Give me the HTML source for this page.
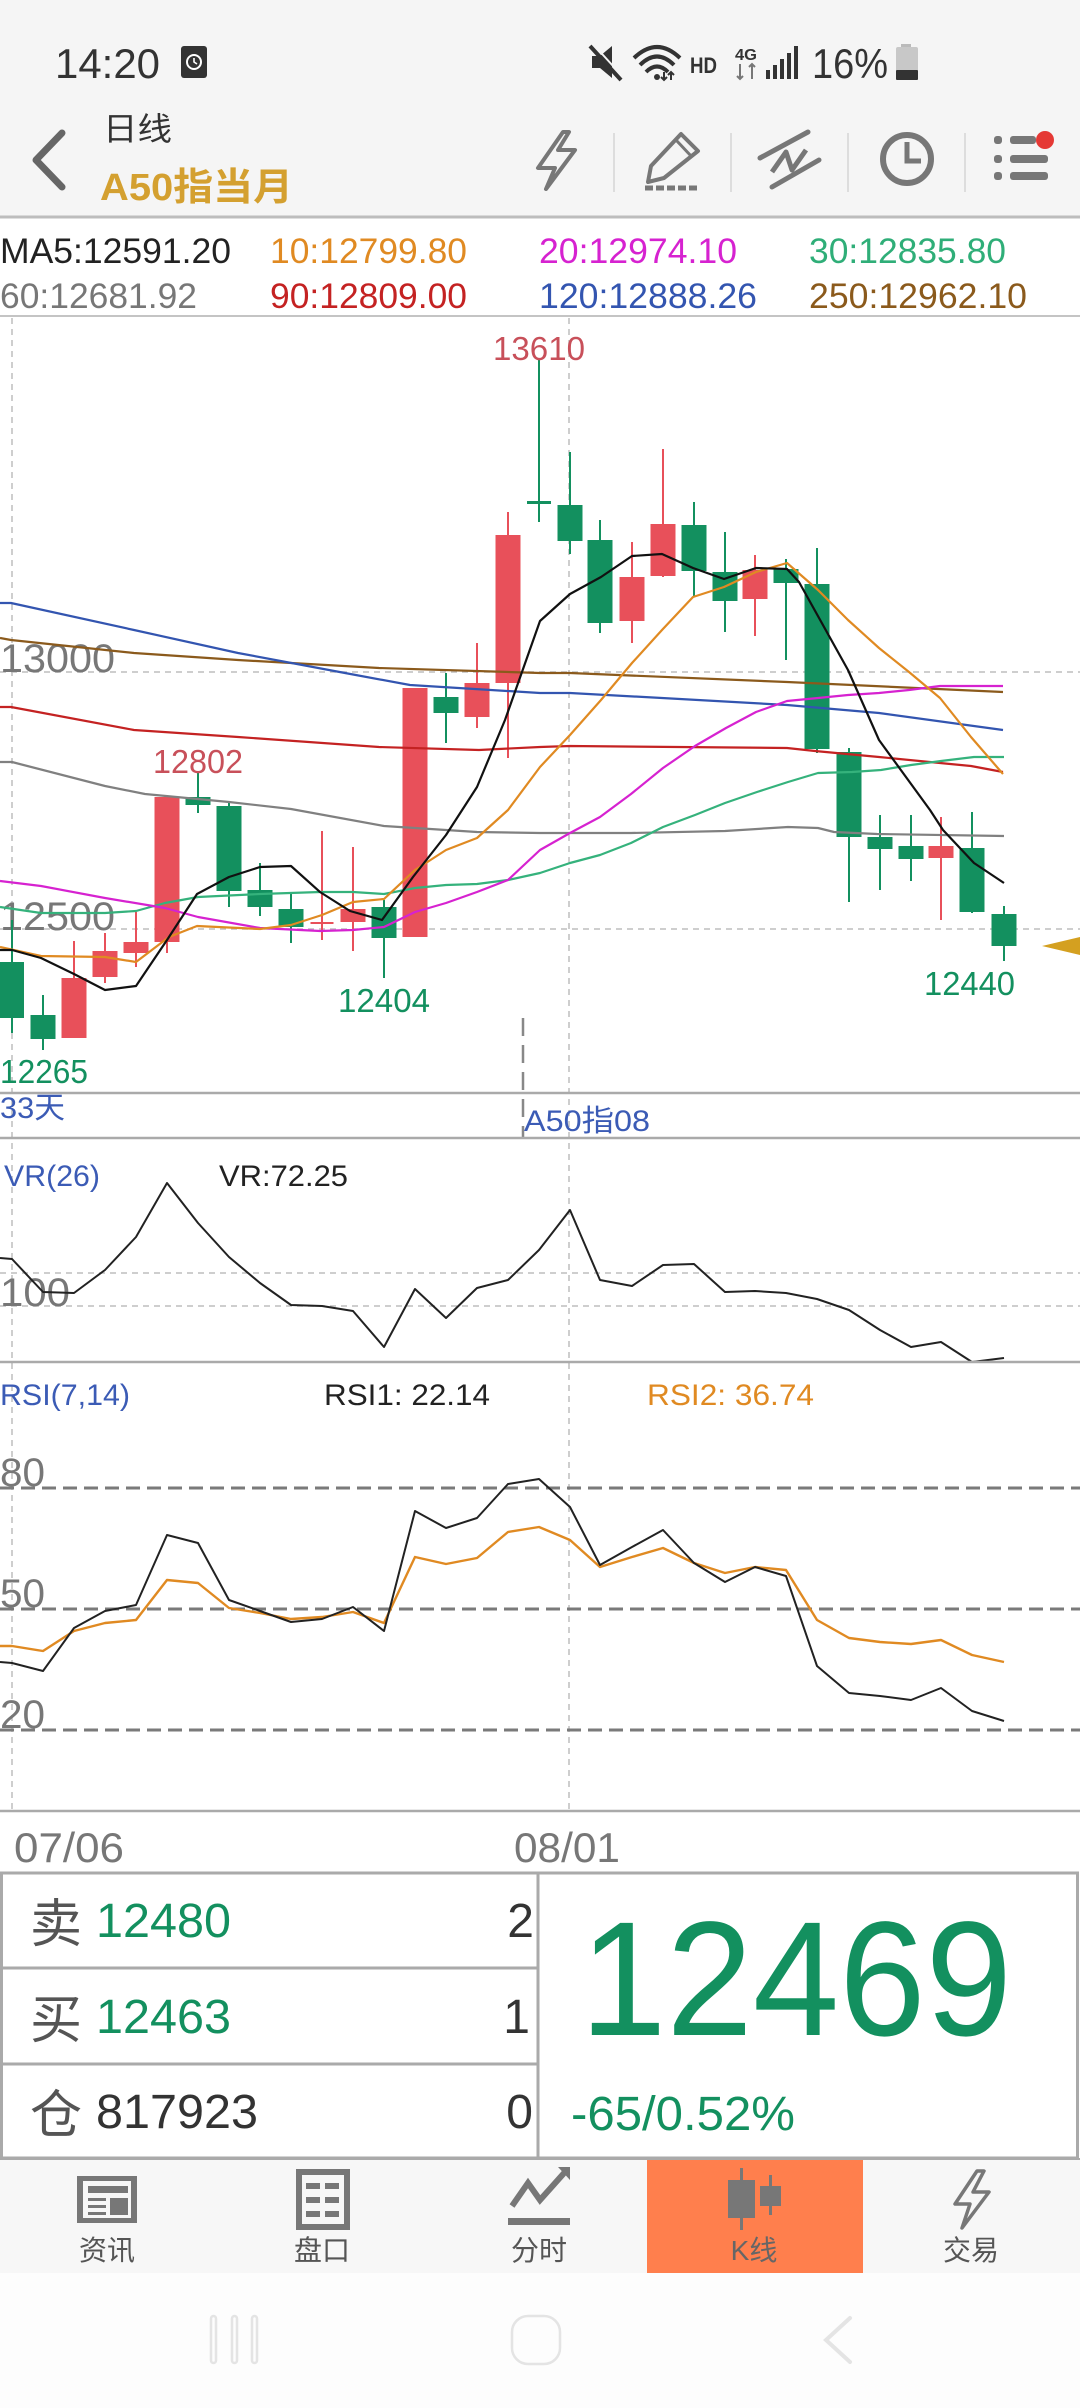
<!DOCTYPE html>
<html><head><meta charset="utf-8"><style>
html,body{margin:0;padding:0;width:1080px;height:2408px;overflow:hidden;background:#fff}
svg{display:block}
text{font-family:"Liberation Sans","Noto Sans CJK SC",sans-serif}
</style></head><body>
<svg width="1080" height="2408" viewBox="0 0 1080 2408" xmlns="http://www.w3.org/2000/svg">
<!-- backgrounds -->
<rect x="0" y="0" width="1080" height="217" fill="#f5f5f5"/>
<rect x="0" y="217" width="1080" height="1943" fill="#ffffff"/>
<rect x="0" y="2160" width="1080" height="113" fill="#f7f7f7"/>
<rect x="0" y="2273" width="1080" height="135" fill="#fdfdfd"/>

<!-- status bar -->
<text x="55" y="78" font-size="42" fill="#333" textLength="105" lengthAdjust="spacingAndGlyphs">14:20</text>
<rect x="181" y="46" width="26" height="32" rx="3" fill="#333"/>
<circle cx="194" cy="62" r="7" fill="none" stroke="#fff" stroke-width="2"/>
<path d="M194 58 L194 62 L197 64" stroke="#fff" stroke-width="1.6" fill="none"/>
<!-- mute -->
<path d="M592 56 L600 56 L612 46 L612 78 L600 68 L592 68 Z" fill="#333"/>
<line x1="590" y1="46" x2="621" y2="80" stroke="#333" stroke-width="4"/>
<line x1="593" y1="44" x2="624" y2="78" stroke="#f5f5f5" stroke-width="2"/>
<!-- wifi -->
<path d="M634 58 Q657 36 680 58" stroke="#333" stroke-width="4" fill="none"/>
<path d="M640 65 Q657 48 674 65" stroke="#333" stroke-width="4" fill="none"/>
<path d="M646 72 Q657 61 668 72" stroke="#333" stroke-width="4" fill="none"/>
<circle cx="657" cy="77" r="3" fill="#333"/>
<path d="M664 72 L664 80 M661 77 L664 80 L667 77 M671 80 L671 72 M668 75 L671 72 L674 75" stroke="#333" stroke-width="2" fill="none"/>
<text x="690" y="73" font-size="22" font-weight="bold" fill="#333" textLength="27" lengthAdjust="spacingAndGlyphs">HD</text>
<text x="735" y="60" font-size="16" font-weight="bold" fill="#333" textLength="22" lengthAdjust="spacingAndGlyphs">4G</text>
<path d="M740 64 L740 79 M737 76 L740 79 L743 76 M752 79 L752 64 M749 67 L752 64 L755 67" stroke="#777" stroke-width="2" fill="none"/>
<rect x="766" y="70" width="4" height="9" fill="#333"/>
<rect x="773" y="65" width="4" height="14" fill="#333"/>
<rect x="780" y="59" width="4" height="20" fill="#333"/>
<rect x="787" y="53" width="4" height="26" fill="#333"/>
<rect x="794" y="46" width="4" height="33" fill="#333"/>
<text x="812" y="78" font-size="42" fill="#333" textLength="76" lengthAdjust="spacingAndGlyphs">16%</text>
<rect x="901" y="44" width="10" height="4" fill="#bbb"/>
<rect x="896" y="47" width="22" height="33" rx="2" fill="#c8c8c8"/>
<rect x="896" y="70" width="22" height="10" rx="1" fill="#333"/>

<!-- header -->
<polyline points="62,133 36,160 62,187" fill="none" stroke="#666" stroke-width="7" stroke-linecap="round" stroke-linejoin="round"/>
<text x="103" y="140" font-size="32" fill="#333" textLength="69" lengthAdjust="spacingAndGlyphs">日线</text>
<text x="100" y="200" font-size="38" font-weight="bold" fill="#d4a030" textLength="193" lengthAdjust="spacingAndGlyphs">A50指当月</text>
<path d="M563 132 L538 168 L555 168 L546 189 L575 150 L558 150 L569 132 Z" fill="none" stroke="#777" stroke-width="4" stroke-linejoin="round"/>
<line x1="614" y1="133" x2="614" y2="192" stroke="#ddd" stroke-width="2"/>
<path d="M681 134 L698 151 L664 178 L648 182 L651 166 Z" fill="none" stroke="#777" stroke-width="4" stroke-linejoin="round"/>
<line x1="676" y1="140" x2="692" y2="157" stroke="#777" stroke-width="3"/>
<line x1="645" y1="188" x2="700" y2="188" stroke="#777" stroke-width="5" stroke-dasharray="8 3"/>
<line x1="731" y1="133" x2="731" y2="192" stroke="#ddd" stroke-width="2"/>
<line x1="760" y1="158" x2="808" y2="132" stroke="#777" stroke-width="5" stroke-linecap="round"/>
<line x1="772" y1="187" x2="819" y2="160" stroke="#777" stroke-width="5" stroke-linecap="round"/>
<polyline points="772,172 786,152 792,170 806,150" fill="none" stroke="#777" stroke-width="5" stroke-linejoin="round"/>
<line x1="848" y1="133" x2="848" y2="192" stroke="#ddd" stroke-width="2"/>
<circle cx="907" cy="159" r="24" fill="none" stroke="#777" stroke-width="6"/>
<polyline points="907,142 907,161 921,161" fill="none" stroke="#777" stroke-width="5"/>
<line x1="965" y1="133" x2="965" y2="192" stroke="#ddd" stroke-width="2"/>
<g fill="#777">
<rect x="994" y="136" width="8" height="8" rx="3"/><rect x="1010" y="136" width="26" height="8" rx="3"/>
<rect x="994" y="155" width="8" height="8" rx="3"/><rect x="1010" y="155" width="38" height="8" rx="3"/>
<rect x="994" y="172" width="8" height="8" rx="3"/><rect x="1010" y="172" width="38" height="8" rx="3"/>
</g>
<circle cx="1045" cy="140" r="9" fill="#e53935"/>
<line x1="0" y1="217" x2="1080" y2="217" stroke="#bdbdbd" stroke-width="3"/>

<!-- MA legend -->
<g font-size="35">
<text x="0" y="263" fill="#222" textLength="231" lengthAdjust="spacingAndGlyphs">MA5:12591.20</text>
<text x="270" y="263" fill="#e08a22" textLength="197" lengthAdjust="spacingAndGlyphs">10:12799.80</text>
<text x="539" y="263" fill="#d622d0" textLength="198" lengthAdjust="spacingAndGlyphs">20:12974.10</text>
<text x="809" y="263" fill="#2fae78" textLength="197" lengthAdjust="spacingAndGlyphs">30:12835.80</text>
<text x="0" y="308" fill="#777" textLength="197" lengthAdjust="spacingAndGlyphs">60:12681.92</text>
<text x="270" y="308" fill="#c42222" textLength="197" lengthAdjust="spacingAndGlyphs">90:12809.00</text>
<text x="539" y="308" fill="#3355b0" textLength="218" lengthAdjust="spacingAndGlyphs">120:12888.26</text>
<text x="809" y="308" fill="#8b5a1c" textLength="218" lengthAdjust="spacingAndGlyphs">250:12962.10</text>
</g>
<line x1="0" y1="316" x2="1080" y2="316" stroke="#c4c4c4" stroke-width="2"/>

<!-- grid -->
<g stroke="#bdbdbd" stroke-width="1.5" stroke-dasharray="6 5">
<line x1="12" y1="318" x2="12" y2="1810"/>
<line x1="569" y1="318" x2="569" y2="1810"/>
<line x1="0" y1="672" x2="1080" y2="672"/>
<line x1="0" y1="929" x2="1080" y2="929"/>
<line x1="0" y1="1273" x2="1080" y2="1273"/>
<line x1="0" y1="1306" x2="1080" y2="1306"/>
</g>
<text x="0" y="672" font-size="40" fill="#777" textLength="115" lengthAdjust="spacingAndGlyphs">13000</text>
<text x="0" y="930" font-size="40" fill="#777" textLength="115" lengthAdjust="spacingAndGlyphs">12500</text>

<!-- candles -->
<g fill="#13905f">
<rect x="11" y="920" width="2" height="113"/><rect x="0" y="962" width="24" height="56"/>
<rect x="42" y="995" width="2" height="55"/><rect x="30.5" y="1015" width="25" height="24"/>
<rect x="197" y="773" width="2" height="40"/><rect x="185.5" y="797" width="25" height="8"/>
<rect x="228" y="803" width="2" height="104"/><rect x="216.5" y="806" width="25" height="85"/>
<rect x="259" y="863" width="2" height="53"/><rect x="247.5" y="890" width="25" height="17"/>
<rect x="290" y="893" width="2" height="50"/><rect x="278.5" y="909" width="25" height="18"/>
<rect x="383" y="900" width="2" height="78"/><rect x="371.5" y="907" width="25" height="31"/>
<rect x="445" y="673" width="2" height="70"/><rect x="433.5" y="697" width="25" height="16"/>
<rect x="538" y="358" width="2" height="164"/><rect x="527" y="501" width="24" height="3"/>
<rect x="569" y="452" width="2" height="102"/><rect x="557.5" y="505" width="25" height="36"/>
<rect x="599" y="520" width="2" height="113"/><rect x="587.5" y="540" width="25" height="83"/>
<rect x="693" y="502" width="2" height="95"/><rect x="681.5" y="525" width="25" height="46"/>
<rect x="724" y="532" width="2" height="100"/><rect x="712.5" y="572" width="25" height="29"/>
<rect x="785" y="559" width="2" height="101"/><rect x="773.5" y="569" width="25" height="14"/>
<rect x="816" y="548" width="2" height="205"/><rect x="804.5" y="584" width="25" height="165"/>
<rect x="848" y="748" width="2" height="154"/><rect x="836.5" y="752" width="25" height="85"/>
<rect x="879" y="815" width="2" height="75"/><rect x="867.5" y="837" width="25" height="12"/>
<rect x="910" y="815" width="2" height="66"/><rect x="898.5" y="846" width="25" height="13"/>
<rect x="971" y="812" width="2" height="101"/><rect x="959.5" y="848" width="25" height="64"/>
<rect x="1003" y="906" width="2" height="55"/><rect x="991.5" y="914" width="25" height="32"/>
</g>
<g fill="#e8505a">
<rect x="73" y="941" width="2" height="97"/><rect x="61.5" y="978" width="25" height="60"/>
<rect x="104" y="933" width="2" height="50"/><rect x="92.5" y="951" width="25" height="26"/>
<rect x="135" y="912" width="2" height="55"/><rect x="123.5" y="942" width="25" height="11"/>
<rect x="166" y="797" width="2" height="156"/><rect x="154.5" y="797" width="25" height="145"/>
<rect x="321" y="831" width="2" height="109"/><rect x="310.5" y="922" width="23" height="2"/>
<rect x="352" y="847" width="2" height="104"/><rect x="340.5" y="909" width="25" height="13"/>
<rect x="402.5" y="688" width="25" height="249"/>
<rect x="476" y="643" width="2" height="85"/><rect x="464.5" y="683" width="25" height="34"/>
<rect x="507" y="512" width="2" height="246"/><rect x="495.5" y="535" width="25" height="148"/>
<rect x="631" y="542" width="2" height="101"/><rect x="619.5" y="577" width="25" height="44"/>
<rect x="662" y="449" width="2" height="128"/><rect x="650.5" y="524" width="25" height="52"/>
<rect x="754" y="555" width="2" height="81"/><rect x="742.5" y="570" width="25" height="29"/>
<rect x="940" y="817" width="2" height="103"/><rect x="928.5" y="846" width="25" height="12"/>
</g>

<!-- MA lines -->
<g fill="none" stroke-width="2.2" stroke-linejoin="round">
<polyline stroke="#8b5a1c" points="0,638 11,640 134,653 238,660 379,668 540,673 570,673 787,682 1003,692"/>
<polyline stroke="#3355b0" points="0,603 11,603 134,630 238,653 345,673 410,685 540,693 570,693 662,698 787,705 879,713 1003,730"/>
<polyline stroke="#c42222" points="0,707 11,707 134,730 238,737 379,747 479,750 540,747 570,746 787,748 815,751 879,757 940,763 971,766 1003,772"/>
<polyline stroke="#808080" points="0,762 12,762 105,786 145,794 229,802 291,809 384,826 477,832 540,833 631,833 725,831 788,827 818,828 834,832 877,834 1004,836"/>
<polyline stroke="#35b27c" points="0,907 41,913 105,913 136,911 165,903 198,897 260,894 320,892 353,892 384,894 415,888 446,885 477,884 508,880 540,873 570,863 600,855 631,843 663,827 695,815 725,803 757,792 788,782 818,773 852,772 881,770 911,765 941,761 974,757 1004,757"/>
<polyline stroke="#d622d0" points="0,881 41,886 105,898 165,908 198,917 260,928 320,931 353,930 384,927 415,912 446,903 477,892 508,880 540,850 570,833 600,817 631,794 663,768 695,746 726,728 756,712 787,701 818,698 848,695 879,693 909,690 940,686 1003,686"/>
<polyline stroke="#e08a22" points="0,947 41,956 105,957 136,962 169,937 197,926 260,929 291,925 322,915 353,902 384,899 415,870 446,850 477,838 508,810 540,767 570,735 601,700 632,663 662,630 693,597 724,587 756,572 787,563 818,590 848,620 879,648 909,672 940,698 971,737 1003,774"/>
<polyline stroke="#111" points="0,950 12,950 41,958 74,974 105,990 136,986 167,940 197,894 229,877 260,867 291,866 320,892 350,911 382,920 413,877 446,835 477,787 505,720 540,621 570,594 601,577 632,556 662,554 693,568 724,579 756,568 787,569 799,582 848,670 879,740 930,810 943,830 974,863 1004,883"/>
</g>

<!-- price labels -->
<g font-size="33">
<text x="493" y="360" fill="#c8505a" textLength="92" lengthAdjust="spacingAndGlyphs">13610</text>
<text x="153" y="773" fill="#c8505a" textLength="90" lengthAdjust="spacingAndGlyphs">12802</text>
<text x="338" y="1012" fill="#13905f" textLength="92" lengthAdjust="spacingAndGlyphs">12404</text>
<text x="0" y="1083" fill="#13905f" textLength="88" lengthAdjust="spacingAndGlyphs">12265</text>
<text x="924" y="995" fill="#13905f" textLength="91" lengthAdjust="spacingAndGlyphs">12440</text>
</g>
<polygon points="1042,946 1080,937 1080,955" fill="#d4a020"/>

<!-- contract boundary -->
<line x1="523" y1="1018" x2="523" y2="1138" stroke="#888" stroke-width="2.5" stroke-dasharray="18 9"/>
<line x1="0" y1="1093" x2="1080" y2="1093" stroke="#aaa" stroke-width="2.5"/>
<text x="0" y="1118" font-size="30" fill="#3b5bb5" textLength="65" lengthAdjust="spacingAndGlyphs">33天</text>
<text x="524" y="1131" font-size="30" fill="#3b5bb5" textLength="126" lengthAdjust="spacingAndGlyphs">A50指08</text>
<line x1="0" y1="1138" x2="1080" y2="1138" stroke="#aaa" stroke-width="2.5"/>

<!-- VR -->
<text x="4" y="1186" font-size="30" fill="#3b5bb5" textLength="96" lengthAdjust="spacingAndGlyphs">VR(26)</text>
<text x="219" y="1186" font-size="30" fill="#222" textLength="129" lengthAdjust="spacingAndGlyphs">VR:72.25</text>
<text x="0" y="1306" font-size="40" fill="#777" textLength="70" lengthAdjust="spacingAndGlyphs">100</text>
<polyline fill="none" stroke="#222" stroke-width="2" stroke-linejoin="round" points="0,1258 12,1259 43,1292 74,1293 105,1270 136,1237 167,1183 198,1223 229,1257 260,1283 291,1305 322,1306 353,1311 384,1347 415,1289 446,1318 477,1288 508,1280 539,1250 570,1210 600,1280 632,1286 663,1265 694,1264 725,1292 755,1291 786,1293 817,1299 849,1310 880,1330 911,1347 941,1342 972,1362 1004,1358"/>
<line x1="0" y1="1362" x2="1080" y2="1362" stroke="#aaa" stroke-width="2.5"/>

<!-- RSI -->
<text x="0" y="1405" font-size="30" fill="#3b5bb5" textLength="130" lengthAdjust="spacingAndGlyphs">RSI(7,14)</text>
<text x="324" y="1405" font-size="30" fill="#222" textLength="166" lengthAdjust="spacingAndGlyphs">RSI1: 22.14</text>
<text x="647" y="1405" font-size="30" fill="#e08a22" textLength="167" lengthAdjust="spacingAndGlyphs">RSI2: 36.74</text>
<g stroke="#7a7a7a" stroke-width="3" stroke-dasharray="14 7">
<line x1="0" y1="1488" x2="1080" y2="1488"/>
<line x1="0" y1="1609" x2="1080" y2="1609"/>
<line x1="0" y1="1730" x2="1080" y2="1730"/>
</g>
<g font-size="40" fill="#777">
<text x="0" y="1486" textLength="45" lengthAdjust="spacingAndGlyphs">80</text>
<text x="0" y="1607" textLength="45" lengthAdjust="spacingAndGlyphs">50</text>
<text x="0" y="1728" textLength="45" lengthAdjust="spacingAndGlyphs">20</text>
</g>
<polyline fill="none" stroke="#e08a22" stroke-width="2.4" stroke-linejoin="round" points="0,1646 12,1646 43,1651 74,1631 105,1623 136,1620 167,1580 198,1583 229,1608 260,1613 291,1619 322,1617 353,1612 384,1623 415,1557 446,1564 477,1558 508,1532 539,1527 570,1540 600,1567 632,1557 663,1548 694,1563 725,1573 755,1567 786,1570 817,1620 849,1638 880,1642 911,1644 941,1640 972,1655 1004,1662"/>
<polyline fill="none" stroke="#222" stroke-width="2" stroke-linejoin="round" points="0,1662 12,1663 43,1671 74,1628 105,1611 136,1605 167,1535 198,1543 229,1600 260,1611 291,1622 322,1619 353,1607 384,1631 415,1511 446,1528 477,1518 508,1484 539,1479 570,1507 600,1565 632,1547 663,1530 694,1563 725,1582 755,1567 786,1576 817,1666 849,1693 880,1696 911,1700 941,1688 972,1711 1004,1721"/>
<line x1="0" y1="1811" x2="1080" y2="1811" stroke="#aaa" stroke-width="2.5"/>

<!-- dates -->
<text x="14" y="1862" font-size="42" fill="#777" textLength="110" lengthAdjust="spacingAndGlyphs">07/06</text>
<text x="514" y="1862" font-size="42" fill="#777" textLength="106" lengthAdjust="spacingAndGlyphs">08/01</text>

<!-- quote panel -->
<g stroke="#aaa" stroke-width="3" fill="none">
<rect x="1.5" y="1873" width="1076" height="285"/>
<line x1="538" y1="1873" x2="538" y2="2158"/>
<line x1="0" y1="1968" x2="538" y2="1968"/>
<line x1="0" y1="2064" x2="538" y2="2064"/>
</g>
<text x="30" y="1942" font-size="52" fill="#555">卖</text>
<text x="96" y="1937" font-size="48" fill="#13905f" textLength="135" lengthAdjust="spacingAndGlyphs">12480</text>
<text x="534" y="1937" font-size="48" fill="#333" text-anchor="end">2</text>
<text x="30" y="2038" font-size="52" fill="#555">买</text>
<text x="96" y="2033" font-size="48" fill="#13905f" textLength="135" lengthAdjust="spacingAndGlyphs">12463</text>
<text x="530" y="2033" font-size="48" fill="#333" text-anchor="end">1</text>
<text x="30" y="2133" font-size="52" fill="#555">仓</text>
<text x="96" y="2128" font-size="48" fill="#333" textLength="162" lengthAdjust="spacingAndGlyphs">817923</text>
<text x="533" y="2128" font-size="48" fill="#333" text-anchor="end">0</text>
<text x="580" y="2035" font-size="163" fill="#13905f" textLength="432" lengthAdjust="spacingAndGlyphs">12469</text>
<text x="571" y="2130" font-size="48" fill="#13905f" textLength="224" lengthAdjust="spacingAndGlyphs">-65/0.52%</text>

<!-- bottom nav -->
<rect x="647" y="2160" width="216" height="113" fill="#ff7f4d"/>
<g fill="#777" stroke="none">
<!-- 资讯 -->
<path d="M77 2176 L137 2176 L137 2223 L77 2223 Z M83 2181 L83 2218 L131 2218 L131 2181 Z" fill-rule="evenodd"/>
<rect x="88" y="2186" width="40" height="7"/>
<rect x="88" y="2198" width="18" height="3"/><rect x="88" y="2205" width="18" height="3"/><rect x="88" y="2212" width="18" height="3"/>
<rect x="110" y="2198" width="18" height="17"/>
<!-- 盘口 -->
<path d="M296 2169 L350 2169 L350 2230 L296 2230 Z M302 2175 L302 2224 L344 2224 L344 2175 Z" fill-rule="evenodd"/>
<rect x="306" y="2183" width="14" height="6"/><rect x="325" y="2183" width="14" height="6"/>
<rect x="306" y="2197" width="14" height="6"/><rect x="325" y="2197" width="14" height="6"/>
<rect x="306" y="2211" width="14" height="6"/><rect x="325" y="2211" width="14" height="6"/>
<!-- 分时 -->
<rect x="508" y="2218" width="62" height="7"/>
<polygon points="558,2167 570,2167 570,2180"/>
<!-- K线 -->
<rect x="740" y="2168" width="3" height="62"/><rect x="728" y="2180" width="27" height="38"/>
<rect x="769" y="2175" width="3" height="40"/><rect x="760" y="2186" width="21" height="20"/>
</g>
<polyline points="512,2206 528,2183 540,2200 565,2172" fill="none" stroke="#777" stroke-width="6" stroke-linejoin="miter"/>
<path d="M977 2171 L955 2204 L970 2204 L962 2228 L989 2192 L973 2192 L984 2171 Z" fill="none" stroke="#777" stroke-width="3.5" stroke-linejoin="round"/>
<g font-size="28" fill="#555" text-anchor="middle">
<text x="107" y="2260">资讯</text>
<text x="322" y="2260">盘口</text>
<text x="539" y="2260">分时</text>
<text x="754" y="2260" fill="#666">K线</text>
<text x="971" y="2260">交易</text>
</g>
<line x1="0" y1="2159" x2="1080" y2="2159" stroke="#aaa" stroke-width="2"/>

<!-- system nav -->
<g fill="none" stroke="#e4e4e4" stroke-width="2.5">
<rect x="211" y="2316" width="5" height="47" rx="2.5"/>
<rect x="232" y="2316" width="5" height="47" rx="2.5"/>
<rect x="252" y="2316" width="5" height="47" rx="2.5"/>
<rect x="512" y="2316" width="48" height="48" rx="16"/>
<polyline points="850,2318 826,2340 850,2362" stroke-width="4" stroke-linecap="round"/>
</g>
</svg>
</body></html>
